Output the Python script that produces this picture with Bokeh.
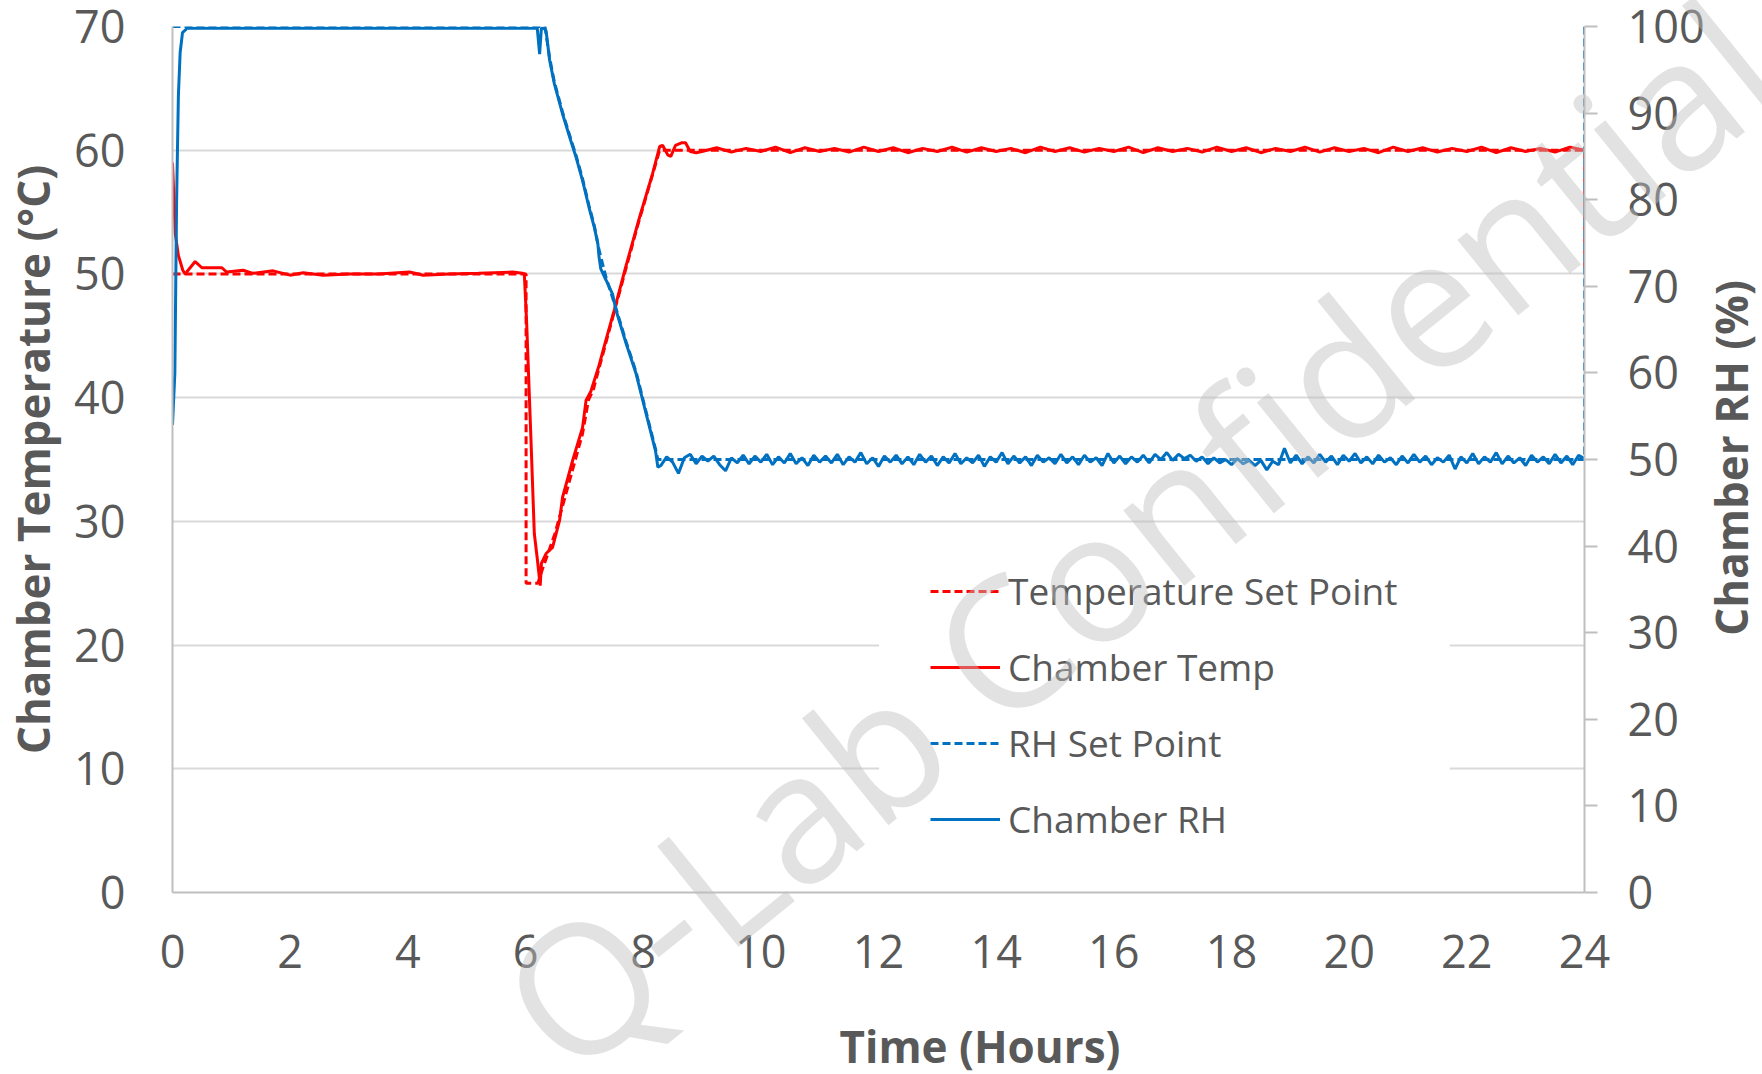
from bokeh.plotting import figure
from bokeh.models import Range1d, LinearAxis, FixedTicker, Legend, LegendItem, Label, BoxAnnotation
from bokeh.embed import file_html
from bokeh.resources import INLINE
import math

# ---------------- data ----------------
x_ticks = [0, 2, 4, 6, 8, 10, 12, 14, 16, 18, 20, 22, 24]
temp_ticks = [0, 10, 20, 30, 40, 50, 60, 70]
rh_ticks = [0, 10, 20, 30, 40, 50, 60, 70, 80, 90, 100]

temp_sp_t = [0.0, 6.01, 6.01, 6.21, 6.3, 6.5, 6.97, 7.07, 7.15, 7.5, 7.9, 8.28, 24.0, 24.0]
temp_sp_v = [50.0, 50.0, 25.0, 25.0, 26.3, 29.0, 37.1, 39.8, 40.6, 46.8, 53.8, 60.0, 60.0, 50.0]

rh_sp_t = [0.0, 6.33, 6.41, 6.49, 6.63, 6.77, 6.86, 6.97, 7.08, 7.17, 7.25, 7.37, 7.54,
           7.71, 7.88, 8.05, 8.21, 8.25, 24.0, 24.0]
rh_sp_v = [100, 100, 96.4, 93.6, 90.1, 87.0, 85.1, 82.4, 79.3, 77.0, 74.2, 71.0, 67.4,
           63.6, 60.1, 55.5, 51.2, 50, 50, 100]

temp_t = [0.0, 0.046, 0.1, 0.175, 0.215, 0.3, 0.385, 0.5, 0.84, 0.92, 1.2, 1.37, 1.71, 2.0,
          2.22, 2.56, 3.0, 3.5, 4.03, 4.26, 4.7, 5.2, 5.78, 5.95, 5.98, 6.02, 6.09, 6.15,
          6.2, 6.25, 6.27, 6.35, 6.46, 6.58, 6.63, 6.8, 6.97, 7.03, 7.11, 7.25, 7.37, 7.51,
          7.7, 7.94, 8.16, 8.28, 8.33, 8.42, 8.47, 8.55, 8.65, 8.72, 8.8, 8.9]
temp_v = [59.0, 53.3, 51.5, 50.3, 50.0, 50.5, 51.0, 50.5, 50.5, 50.15, 50.3, 50.05, 50.25, 49.9,
          50.1, 49.9, 50.0, 50.0, 50.15, 49.9, 50.0, 50.05, 50.15, 50.05, 50.0, 46.0, 37.0, 29.0,
          27.0, 24.8, 26.6, 27.4, 27.9, 30.1, 31.95, 34.9, 37.6, 39.8, 40.5, 42.6, 44.7, 47.1,
          50.5, 54.6, 58.1, 60.3, 60.4, 59.6, 59.5, 60.4, 60.6, 60.6, 59.9, 59.8]

temp_osc_t = [9.0, 9.25, 9.5, 9.75, 10.0, 10.25, 10.5, 10.75, 11.0, 11.25, 11.5, 11.75,
              12.0, 12.25, 12.5, 12.75, 13.0, 13.25, 13.5, 13.75, 14.0, 14.25, 14.5, 14.75,
              15.0, 15.25, 15.5, 15.75, 16.0, 16.25, 16.5, 16.75, 17.0, 17.25, 17.5, 17.75,
              18.0, 18.25, 18.5, 18.75, 19.0, 19.25, 19.5, 19.75, 20.0, 20.25, 20.5, 20.75,
              21.0, 21.25, 21.5, 21.75, 22.0, 22.25, 22.5, 22.75, 23.0, 23.25, 23.5, 23.75, 24.0]
temp_osc_v = [59.9, 60.2, 59.85, 60.15, 59.9, 60.25, 59.8, 60.2, 59.9, 60.15, 59.85, 60.25,
              59.9, 60.2, 59.8, 60.15, 59.9, 60.25, 59.85, 60.2, 59.9, 60.15, 59.8, 60.25,
              59.9, 60.2, 59.85, 60.15, 59.9, 60.25, 59.8, 60.2, 59.9, 60.15, 59.85, 60.25,
              59.9, 60.2, 59.8, 60.15, 59.9, 60.25, 59.85, 60.2, 59.9, 60.15, 59.8, 60.25,
              59.9, 60.2, 59.85, 60.15, 59.9, 60.25, 59.8, 60.2, 59.9, 60.15, 59.85, 60.25, 60.0]

rh_t = [0.0, 0.04, 0.07, 0.1, 0.13, 0.17, 0.25, 0.35, 3.0, 6.1, 6.2, 6.24, 6.27, 6.31, 6.35,
        6.41, 6.49, 6.63, 6.77, 6.86, 6.97, 7.08, 7.17, 7.23, 7.25, 7.28, 7.37, 7.48, 7.54,
        7.71, 7.88, 8.05, 8.21, 8.25]
rh_v = [54.0, 60.0, 80.0, 92.0, 97.0, 99.3, 99.8, 99.8, 99.8, 99.8, 99.8, 96.8, 99.8, 99.8, 99.5,
        96.1, 93.4, 89.9, 86.8, 84.9, 82.2, 79.1, 76.8, 74.9, 73.4, 72.0, 70.7, 69.1, 67.2,
        63.4, 59.9, 55.3, 51.0, 49.1]

rh_noise_t = [8.3, 8.4, 8.5, 8.6, 8.7, 8.8, 8.9, 9.0, 9.1, 9.2,
              9.3, 9.4, 9.5, 9.6, 9.7, 9.8, 9.9, 10.0, 10.1, 10.2,
              10.3, 10.4, 10.5, 10.6, 10.7, 10.8, 10.9, 11.0, 11.1, 11.2,
              11.3, 11.4, 11.5, 11.6, 11.7, 11.8, 11.9, 12.0, 12.1, 12.2,
              12.3, 12.4, 12.5, 12.6, 12.7, 12.8, 12.9, 13.0, 13.1, 13.2,
              13.3, 13.4, 13.5, 13.6, 13.7, 13.8, 13.9, 14.0, 14.1, 14.2,
              14.3, 14.4, 14.5, 14.6, 14.7, 14.8, 14.9, 15.0, 15.1, 15.2,
              15.3, 15.4, 15.5, 15.6, 15.7, 15.8, 15.9, 16.0, 16.1, 16.2,
              16.3, 16.4, 16.5, 16.6, 16.7, 16.8, 16.9, 17.0, 17.1, 17.2,
              17.3, 17.4, 17.5, 17.6, 17.7, 17.8, 17.9, 18.0, 18.1, 18.2,
              18.3, 18.4, 18.5, 18.6, 18.7, 18.8, 18.9, 19.0, 19.1, 19.2,
              19.3, 19.4, 19.5, 19.6, 19.7, 19.8, 19.9, 20.0, 20.1, 20.2,
              20.3, 20.4, 20.5, 20.6, 20.7, 20.8, 20.9, 21.0, 21.1, 21.2,
              21.3, 21.4, 21.5, 21.6, 21.7, 21.8, 21.9, 22.0, 22.1, 22.2,
              22.3, 22.4, 22.5, 22.6, 22.7, 22.8, 22.9, 23.0, 23.1, 23.2,
              23.3, 23.4, 23.5, 23.6, 23.7, 23.8, 23.9, 24.0]
rh_noise_v = [49.3, 50.3, 49.7, 48.4, 50.2, 50.6, 49.5, 50.4, 49.8, 50.4,
              49.4, 48.7, 50.2, 49.6, 50.5, 49.5, 50.4, 49.7, 50.6, 49.4,
              50.3, 49.6, 50.7, 49.5, 50.2, 49.3, 50.5, 49.7, 50.4, 49.6,
              50.6, 49.4, 50.3, 49.7, 50.8, 49.5, 50.2, 49.2, 50.4, 49.7,
              50.5, 49.5, 50.3, 49.4, 50.6, 49.7, 50.4, 49.3, 50.3, 49.6,
              50.7, 49.5, 50.2, 49.6, 50.5, 49.2, 50.3, 49.7, 50.8, 49.5,
              50.4, 49.6, 50.3, 49.3, 50.5, 49.7, 50.2, 49.5, 50.6, 49.6,
              50.3, 49.4, 50.5, 49.7, 50.2, 49.3, 50.7, 49.6, 50.4, 49.5,
              50.3, 49.7, 50.5, 49.6, 50.6, 50.0, 50.8, 49.9, 50.6, 50.1,
              50.5, 49.8, 50.3, 49.5, 50.2, 49.6, 50.0, 49.4, 50.1, 49.5,
              49.9, 49.3, 49.9, 48.8, 49.8, 49.4, 51.3, 49.6, 50.5, 49.5,
              50.3, 49.6, 50.6, 49.7, 50.4, 49.4, 50.5, 49.8, 50.7, 49.6,
              50.3, 49.5, 50.5, 49.7, 50.2, 49.4, 50.4, 49.6, 50.6, 49.7,
              50.4, 49.4, 50.2, 49.7, 50.5, 48.9, 50.3, 49.6, 50.7, 49.5,
              50.3, 49.7, 50.8, 49.5, 50.4, 49.6, 50.2, 49.3, 50.5, 49.7,
              50.3, 49.5, 50.6, 49.6, 50.4, 49.4, 50.5, 50.1]

legend_labels = ["Temperature Set Point", "Chamber Temp", "RH Set Point", "Chamber RH"]
x_title = "Time (Hours)"
y_title = "Chamber Temperature (°C)"
y2_title = "Chamber RH (%)"
watermark = "Q-Lab Confidential"

# ---------------- styling ----------------
FONT = "Open Sans"
TXT = "#595959"
AX = "#bfbfbf"
GRID = "#d9d9d9"
RED = "#ff0000"
BLUE = "#0070c0"

p = figure(width=1762, height=1074, output_backend="svg", toolbar_location=None,
           x_range=Range1d(0, 24), y_range=Range1d(0, 70),
           min_border_left=169, min_border_right=178, min_border_top=26, min_border_bottom=182)
p.extra_y_ranges = {"rh": Range1d(0, 100)}
p.outline_line_color = None
p.background_fill_color = "white"
p.border_fill_color = "white"

# white box behind the legend (hides grid lines there)
p.add_layout(BoxAnnotation(left=12.01, right=21.71, bottom=0.4, top=29.6,
                           fill_color="white", fill_alpha=1.0, line_color=None, level="underlay"))

# series
r_tsp = p.line(temp_sp_t, temp_sp_v, line_color=RED, line_width=3, line_dash="8 4")
r_t = p.line(temp_t + temp_osc_t, temp_v + temp_osc_v, line_color=RED, line_width=3)
r_rsp = p.line(rh_sp_t, rh_sp_v, line_color=BLUE, line_width=3, line_dash="8 4", y_range_name="rh")
r_rh = p.line(rh_t + rh_noise_t, rh_v + rh_noise_v, line_color=BLUE, line_width=3, y_range_name="rh")

# axes
xa = p.xaxis[0]
xa.ticker = FixedTicker(ticks=x_ticks)
ya = p.yaxis[0]
ya.ticker = FixedTicker(ticks=temp_ticks)
ya.axis_label = y_title
for ax in (xa, ya):
    ax.axis_line_color = AX
    ax.axis_line_width = 2
    ax.major_tick_line_color = None
    ax.minor_tick_line_color = None
    ax.major_tick_out = 0
    ax.major_tick_in = 0
    ax.major_label_text_font = FONT
    ax.major_label_text_font_size = "45px"
    ax.major_label_text_color = TXT
    ax.axis_label_text_font = FONT
    ax.axis_label_text_font_size = "44px"
    ax.axis_label_text_font_style = "bold"
    ax.axis_label_text_color = TXT
xa.major_label_standoff = 42
ya.major_label_standoff = 47
ya.axis_label_standoff = 8

ra = LinearAxis(y_range_name="rh", ticker=FixedTicker(ticks=rh_ticks))
ra.axis_line_color = AX
ra.axis_line_width = 2
ra.major_tick_line_color = AX
ra.major_tick_line_width = 2
ra.major_tick_out = 13
ra.major_tick_in = 0
ra.minor_tick_line_color = None
ra.major_label_standoff = 30
ra.major_label_text_font = FONT
ra.major_label_text_font_size = "45px"
ra.major_label_text_color = TXT
p.add_layout(ra, "right")

p.xgrid.grid_line_color = None
p.ygrid.grid_line_color = GRID
p.ygrid.grid_line_width = 2
p.ygrid.ticker = FixedTicker(ticks=temp_ticks)

# legend
legend = Legend(items=[LegendItem(label=legend_labels[0], renderers=[r_tsp]),
                       LegendItem(label=legend_labels[1], renderers=[r_t]),
                       LegendItem(label=legend_labels[2], renderers=[r_rsp]),
                       LegendItem(label=legend_labels[3], renderers=[r_rh])],
                location=(758, 48))
legend.margin = 0
legend.padding = 4
legend.spacing = 25
legend.glyph_width = 70
legend.glyph_height = 50
legend.label_height = 50
legend.label_standoff = 8
legend.label_text_font = FONT
legend.label_text_font_size = "37px"
legend.label_text_color = TXT
legend.border_line_color = None
legend.background_fill_alpha = 0.0
p.add_layout(legend)

# x title, right-axis title and watermark as floating text over the canvas
placed = False
try:
    from bokeh.models.dom import Div as DomDiv
    base = {"position": "absolute", "white-space": "nowrap", "font-family": "'Open Sans'",
            "pointer-events": "none", "line-height": "normal"}
    xt_el = DomDiv(children=[x_title], style=dict(base, **{
        "left": "980px", "top": "1046px", "transform": "translate(-50%, -50%)",
        "font-size": "44px", "font-weight": "bold", "color": TXT}))
    rt_el = DomDiv(children=[y2_title], style=dict(base, **{
        "left": "1731px", "top": "458px", "transform": "translate(-50%, -50%) rotate(-90deg)",
        "font-size": "44px", "font-weight": "bold", "color": TXT}))
    wm_el = DomDiv(children=[watermark], style=dict(base, **{
        "left": "1137px", "top": "534px", "transform": "translate(-50%, -50%) rotate(-39deg)",
        "font-size": "181px", "color": "rgba(191,191,191,0.45)"}))
    p.elements = [xt_el, rt_el, wm_el]
    placed = True
except Exception:
    placed = False

if not placed:
    xa.axis_label = x_title
    xa.axis_label_standoff = 40
    p.add_layout(Label(x=1562, y=434, x_units="screen", y_units="screen", text=y2_title,
                       angle=math.pi / 2, text_align="center", text_baseline="middle",
                       text_font=FONT, text_font_size="44px", text_font_style="bold", text_color=TXT))
    wm = Label(x=1012, y=303, x_units="screen", y_units="screen", text=watermark,
               angle=math.radians(39), text_align="center", text_baseline="alphabetic",
               text_font=FONT, text_font_size="181px", text_color="#bfbfbf", text_alpha=0.45)
    wm.level = "overlay"
    p.add_layout(wm)

open("out.html", "w").write(file_html(p, INLINE))
